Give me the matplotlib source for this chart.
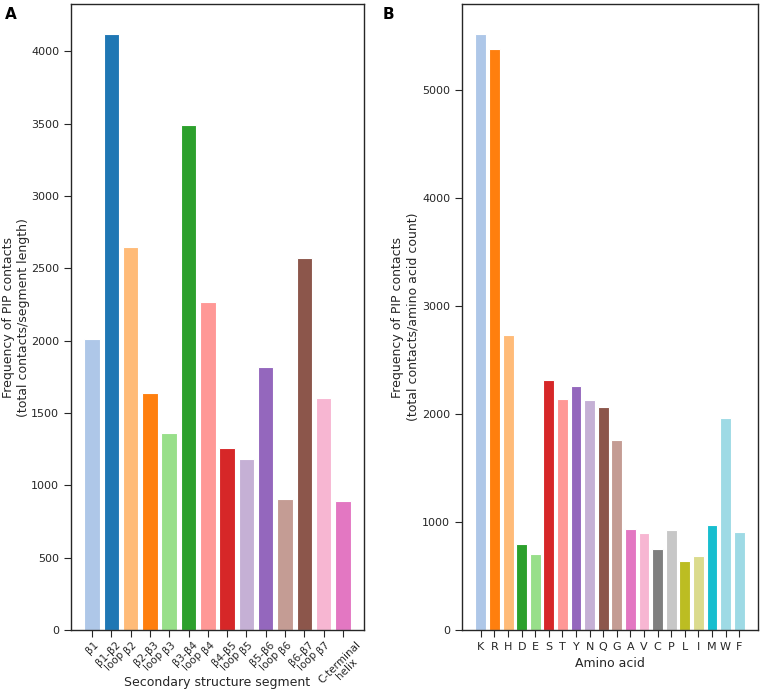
import matplotlib
matplotlib.use("Agg")
import matplotlib.pyplot as plt

# Panel A: secondary structure segments
segments = ["β1", "β1-β2\nloop", "β2", "β2-β3\nloop", "β3", "β3-β4\nloop", "β4",
            "β4-β5\nloop", "β5", "β5-β6\nloop", "β6", "β6-β7\nloop", "β7",
            "C-terminal\nhelix"]
segment_freq = [2010, 4120, 2645, 1640, 1365, 3490, 2265, 1255, 1185, 1815,
                905, 2570, 1605, 895]
segment_colors = ["#aec7e8", "#1f77b4", "#ffbb78", "#ff7f0e", "#98df8a", "#2ca02c",
                  "#ff9896", "#d62728", "#c5b0d5", "#9467bd", "#c49c94", "#8c564b",
                  "#f7b6d2", "#e377c2"]

# Panel B: amino acids
amino_acids = ["K", "R", "H", "D", "E", "S", "T", "Y", "N", "Q", "G", "A", "V",
               "C", "P", "L", "I", "M", "W", "F"]
amino_freq = [5515, 5380, 2730, 800, 702, 2313, 2136, 2257, 2124, 2059, 1754,
              930, 893, 748, 923, 640, 683, 976, 1957, 905]
amino_colors = ["#aec7e8", "#ff7f0e", "#ffbb78", "#2ca02c", "#98df8a", "#d62728",
                "#ff9896", "#9467bd", "#c5b0d5", "#8c564b", "#c49c94", "#e377c2",
                "#f7b6d2", "#7f7f7f", "#c7c7c7", "#bcbd22", "#dbdb8d", "#17becf",
                "#9edae5", "#9edae5"]

DARK = "#262626"
plt.rcParams.update({
    "font.family": "DejaVu Sans",
    "axes.edgecolor": DARK,
    "axes.linewidth": 1.0,
    "xtick.color": DARK,
    "ytick.color": DARK,
    "xtick.major.size": 5,
    "ytick.major.size": 5,
    "xtick.labelsize": 8,
    "ytick.labelsize": 8,
    "axes.labelsize": 9,
    "text.color": DARK,
    "axes.labelcolor": DARK,
})

fig = plt.figure(figsize=(7.63, 6.91), dpi=100)
ax_a = fig.add_axes([0.093, 0.0883, 0.384, 0.9057])
ax_b = fig.add_axes([0.6055, 0.0883, 0.388, 0.9057])

xa = list(range(len(segments)))
ax_a.bar(xa, segment_freq, width=0.8, color=segment_colors, edgecolor="white", linewidth=0.8)
ax_a.set_xticks(xa)
ax_a.set_xticklabels(segments, rotation=45, ha="center", fontsize=7.5, linespacing=0.95)
ax_a.tick_params(axis="x", pad=2)
ax_a.set_xlabel("Secondary structure segment")
ax_a.xaxis.set_label_coords(0.5, -0.074)
ax_a.set_ylabel("Frequency of PIP contacts\n(total contacts/segment length)", labelpad=0.5)

xb = list(range(len(amino_acids)))
ax_b.bar(xb, amino_freq, width=0.8, color=amino_colors, edgecolor="white", linewidth=0.8)
ax_b.set_xticks(xb)
ax_b.set_xticklabels(amino_acids)
ax_b.set_xlabel("Amino acid")
ax_b.set_ylabel("Frequency of PIP contacts\n(total contacts/amino acid count)", labelpad=2)

fig.text(0.007, 0.972, "A", fontsize=11, fontweight="bold", color="black")
fig.text(0.502, 0.972, "B", fontsize=11, fontweight="bold", color="black")

fig.savefig("out.png", dpi=100)
